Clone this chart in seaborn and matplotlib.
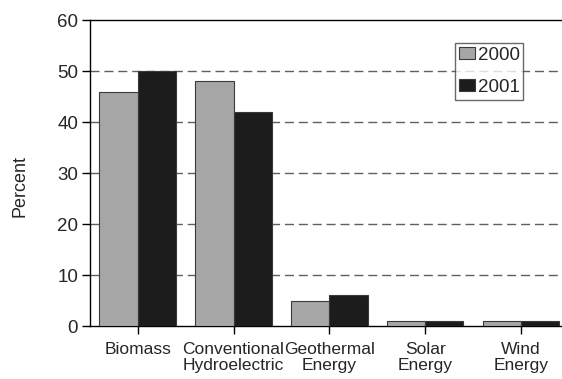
import matplotlib
matplotlib.use("Agg")
import matplotlib.pyplot as plt
import pandas as pd
import seaborn as sns

categories = ["Biomass", "Conventional\nHydroelectric", "Geothermal\nEnergy", "Solar\nEnergy", "Wind\nEnergy"]
years = ["2000", "2001"]
values_2000 = [46, 48, 5, 1, 1]
values_2001 = [50, 42, 6, 1, 1]

df = pd.DataFrame({
    "category": categories * 2,
    "year": [years[0]] * len(categories) + [years[1]] * len(categories),
    "percent": values_2000 + values_2001,
})

sns.set_style("white")
plt.rcParams["font.family"] = ["Liberation Sans", "DejaVu Sans"]

fig = plt.figure(figsize=(5.62, 3.79), dpi=100)
ax = fig.add_axes([0.160, 0.1398, 0.840, 0.807])

sns.barplot(data=df, x="category", y="percent", hue="year",
            palette=["#a6a6a6", "#1c1c1c"], width=0.8,
            edgecolor="#3a3a3a", linewidth=0.8, ax=ax, zorder=3)

ax.set_ylim(0, 60)
ax.set_yticks(range(0, 61, 10))
ax.set_xlim(-0.5, 4.43)
for y in range(10, 60, 10):
    ax.axhline(y, color="#606060", lw=1.0, ls=(0, (6.5, 3.5)), zorder=1)

for side in ["left", "bottom", "top"]:
    ax.spines[side].set_color("black")
    ax.spines[side].set_linewidth(1.0)
ax.spines["right"].set_visible(False)

ax.tick_params(axis="both", direction="out", length=5.5, width=1, color="black",
               left=True, bottom=True)
ax.tick_params(axis="x", labelsize=12.5, pad=6)
ax.tick_params(axis="y", labelsize=13.5, pad=3)
ax.set_xticks([0.0, 1.0, 2.0, 3.0, 4.0])
ax.set_xticklabels(categories, linespacing=1.1)
ax.set_xlabel("")
ax.set_ylabel("Percent", fontsize=13)
ax.yaxis.set_label_coords(-0.13, 0.457)

leg = ax.legend(loc="upper left", bbox_to_anchor=(0.773, 0.925), frameon=True,
                fancybox=False, edgecolor="#444444", fontsize=13.5,
                handlelength=0.9, handleheight=0.6, handletextpad=0.12,
                borderpad=0.2, labelspacing=0.8, borderaxespad=0)
leg.get_frame().set_linewidth(1.0)

fig.savefig("out.png", dpi=100)
